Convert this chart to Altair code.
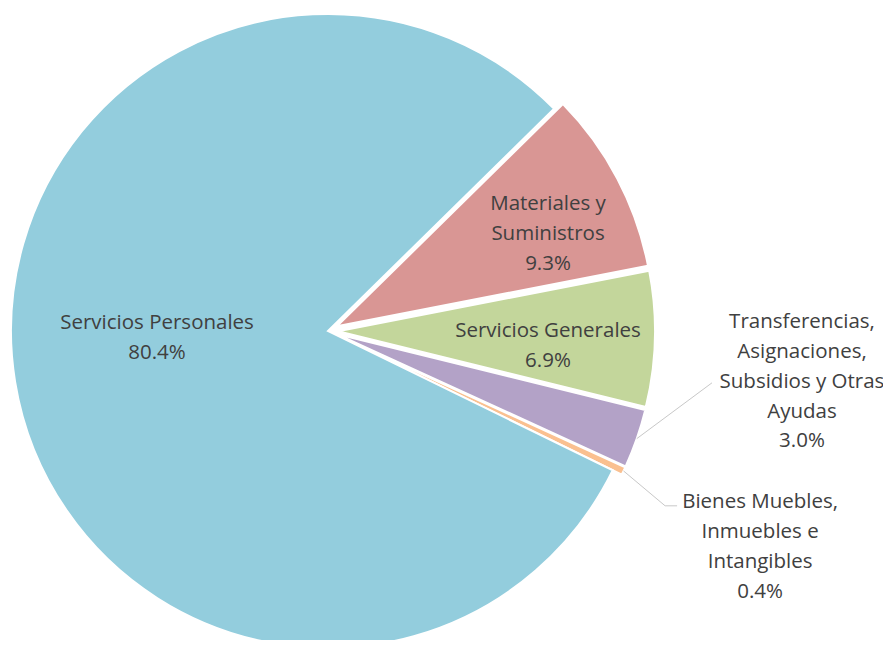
import math
import altair as alt
import pandas as pd

# ---- data ----
categories = [
    "Materiales y Suministros",
    "Servicios Generales",
    "Transferencias, Asignaciones, Subsidios y Otras Ayudas",
    "Bienes Muebles, Inmuebles e Intangibles",
    "Servicios Personales",
]
label_lines = [
    ["Materiales y", "Suministros"],
    ["Servicios Generales"],
    ["Transferencias,", "Asignaciones,", "Subsidios y Otras", "Ayudas"],
    ["Bienes Muebles,", "Inmuebles e", "Intangibles"],
    ["Servicios Personales"],
]
shares = [9.3, 6.9, 3.0, 0.4, 80.4]
colors = ["#D99694", "#C3D69B", "#B3A2C7", "#FAC090", "#93CDDD"]

# ---- layout (chart pixel space) ----
W, H = 875, 632
CX, CY = 320, 323
R = 317
START = math.radians(45.5)
EXPLODE = 10
LINE_H = 29.8
# label placement: radius from centre and angular nudge (deg) from the slice bisector
LAB_R = [240.4, 220.5, 476.7, 483.0, 171.1]
LAB_NUDGE = [4.0, 2.5, -13.1, 1.2, 6.9]
# leader elbow offsets relative to label centre, and horizontal stub length
ELB_DX = [0, 0, -90, -95, 0]
ELB_DY = [0, 0, 1, -41, 0]
STUB = [0, 0, 0, 12, 0]

df = pd.DataFrame({
    "category": categories,
    "share": shares,
    "order": list(range(len(categories))),
    "label": ["\n".join(l + [f"{s:.1f}%"]) for l, s in zip(label_lines, shares)],
    "nlines": [len(l) + 1 for l in label_lines],
})

def arr(v):
    return "[" + ",".join(str(x) for x in v) + "]"

base = alt.Chart(df).transform_window(
    cum="sum(share)", sort=[alt.SortField("order")], frame=[None, 0]
).transform_calculate(
    mid=f"{START} + 2*PI*(datum.cum - datum.share/2)/100",
    ex=f"datum.order == 4 ? 0 : {EXPLODE}",
).transform_calculate(
    px=f"{CX} + datum.ex*sin(datum.mid)",
    py=f"{CY} - datum.ex*cos(datum.mid)",
    la=f"datum.mid + {arr(LAB_NUDGE)}[datum.order]*PI/180",
    lr=f"{arr(LAB_R)}[datum.order]",
).transform_calculate(
    lx=f"{CX} + datum.lr*sin(datum.la)",
    ly=f"{CY} - datum.lr*cos(datum.la)",
    edx=f"datum.px + {R}*sin(datum.mid)",
    edy=f"datum.py - {R}*cos(datum.mid)",
).transform_calculate(
    ly0=f"datum.ly - (datum.nlines - 1)/2*{LINE_H}",
    elx=f"datum.lx + {arr(ELB_DX)}[datum.order]",
    ely=f"datum.ly + {arr(ELB_DY)}[datum.order]",
).transform_calculate(
    stx=f"datum.elx + {arr(STUB)}[datum.order]",
)

arcs = base.mark_arc(radius=R, stroke="white", strokeWidth=2).encode(
    theta=alt.Theta("share:Q", stack=True,
                    scale=alt.Scale(domain=[0, 100], range=[START, START + 2 * math.pi])),
    order=alt.Order("order:Q"),
    color=alt.Color("category:N", scale=alt.Scale(domain=categories, range=colors), legend=None),
    x=alt.X("px:Q", scale=None),
    y=alt.Y("py:Q", scale=None),
)

leaders = base.transform_filter("datum.order == 2 || datum.order == 3").mark_rule(
    color="#C8C8C8", strokeWidth=1
).encode(
    x=alt.X("edx:Q", scale=None), y=alt.Y("edy:Q", scale=None),
    x2="elx:Q", y2="ely:Q",
)
stubs = base.transform_filter("datum.order == 3").mark_rule(
    color="#C8C8C8", strokeWidth=1
).encode(
    x=alt.X("elx:Q", scale=None), y=alt.Y("ely:Q", scale=None),
    x2="stx:Q", y2="ely:Q",
)

labels = base.mark_text(
    font="Open Sans", fontSize=20.5, color="#404040", align="center",
    baseline="middle", lineBreak="\n", lineHeight=LINE_H,
).encode(
    x=alt.X("lx:Q", scale=None), y=alt.Y("ly0:Q", scale=None), text="label:N",
)

chart = alt.layer(arcs, leaders, stubs, labels).properties(
    width=W, height=H, padding=0, autosize=alt.AutoSizeParams(type="none"),
    background="white",
).configure_view(stroke=None)

chart.save("out.html", embed_options={"renderer": "svg", "actions": False})
